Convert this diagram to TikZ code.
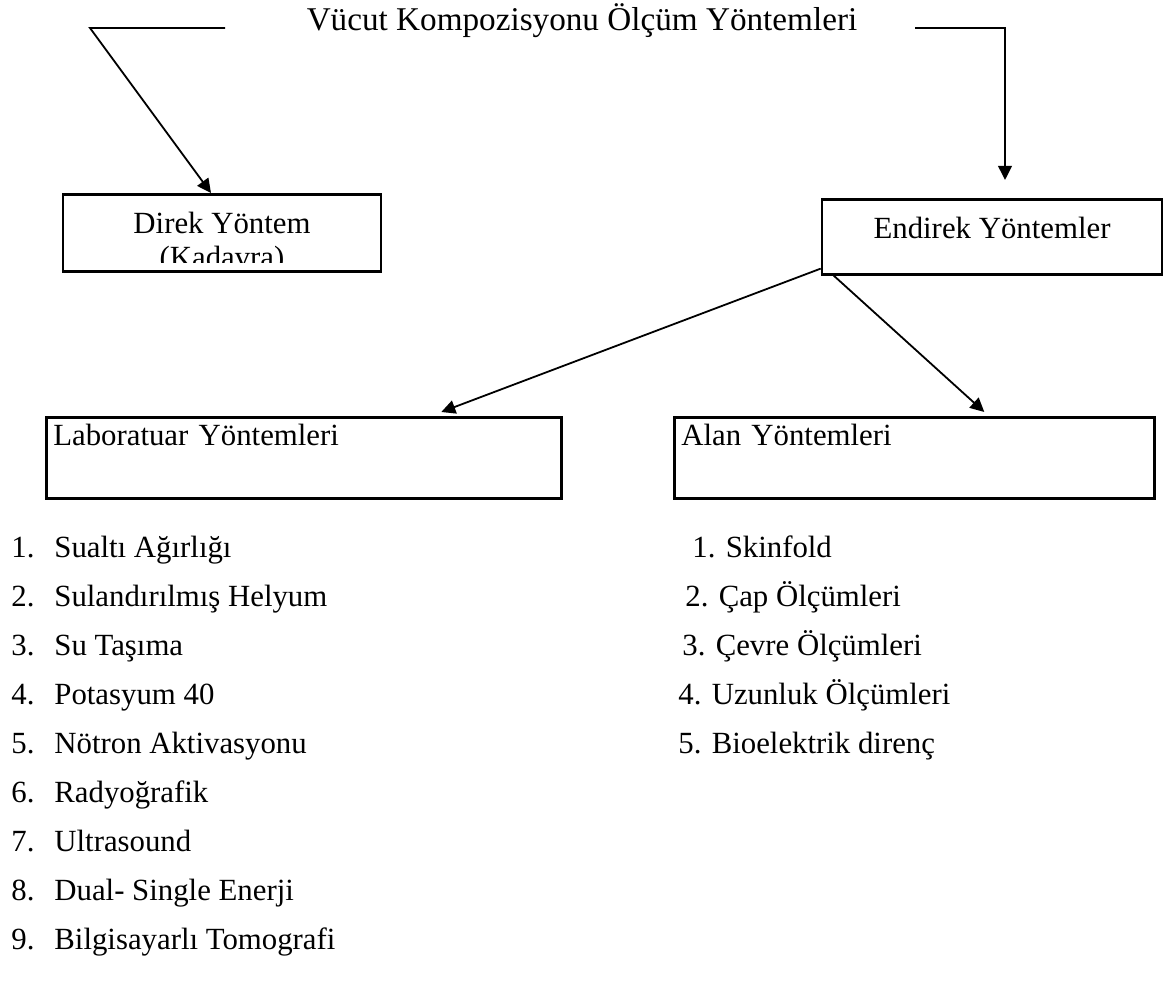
\documentclass[tikz,border=0pt]{standalone}
\usepackage{fontspec}
\setmainfont{Liberation Serif}
\usepackage{tikz}
\usetikzlibrary{positioning}
\usetikzlibrary{arrows.meta}
\tikzset{every node/.style={font=\fontsize{15.4}{18}\selectfont},
  box/.style={draw,line width=1.3pt,inner ysep=0pt},
  item/.style={inner sep=0pt,text height=11pt,text depth=4pt},
  arr/.style={line width=0.9pt,-{Triangle[length=7pt,width=6.8pt]}}}

\begin{document}
\begin{tikzpicture}[x=0.5pt,y=-0.5pt]
    \useasboundingbox (0,0) rectangle (1170,984);

    \node (title) [anchor=base, font=\fontsize{16.6}{20}\selectfont] at (582,31) {V\"ucut Kompozisyonu \"Ol\c{c}\"um Y\"ontemleri};
    \coordinate (tl1) at (225,28);
    \coordinate (tl2) at (90,28);
    \coordinate (tr1) at (915,28);
    \coordinate (tr2) at (1005,28);

    \node (direk) [box, anchor=north, minimum width=159pt, text height=19.5pt, text depth=19pt] at (222,193) {Direk Yöntem};
    \begin{scope}
        \clip ([yshift=5pt]direk.south west) rectangle (direk.north east);
        \node (kadavra) [anchor=base] at ([yshift=-17pt]direk.base) {(Kadavra)};
    \end{scope}
    \node (endirek) [box, anchor=north, minimum width=170pt, text height=19.5pt, text depth=18pt] at (992,198) {Endirek Yöntemler};

    \node (lab) [box, anchor=north west, inner xsep=3.5pt, text width=250.5pt, align=left, text height=14pt, text depth=26.5pt] at (45,416) {Laboratuar Yöntemleri};
    \node (alan) [box, anchor=north west, inner xsep=3.5pt, text width=233pt, align=left, text height=14pt, text depth=26.5pt] at (673,416) {Alan Yöntemleri};

    \draw[arr] (tl1) -- (tl2) -- ([xshift=-5.5pt]direk.north);
    \draw[arr] (tr1) -- (tr2) -- ([xshift=6.5pt,yshift=9pt]endirek.north);
    \draw[arr] ([yshift=3.5pt]endirek.south west) -- ([xshift=68.75pt,yshift=2pt]lab.north);
    \draw[arr] ([xshift=6.5pt]endirek.south west) -- ([xshift=35pt,yshift=2pt]alan.north);

    % laboratuar listesi
    \node (l1) [item, anchor=base west] at (11,557) {\makebox[21.5pt][l]{1.}Sualtı Ağırlığı};
    \node (l2) [item, below=24.55pt of l1.west, anchor=west] {\makebox[21.5pt][l]{2.}Sulandırılmış Helyum};
    \node (l3) [item, below=24.55pt of l2.west, anchor=west] {\makebox[21.5pt][l]{3.}Su Taşıma};
    \node (l4) [item, below=24.55pt of l3.west, anchor=west] {\makebox[21.5pt][l]{4.}Potasyum 40};
    \node (l5) [item, below=24.55pt of l4.west, anchor=west] {\makebox[21.5pt][l]{5.}Nötron Aktivasyonu};
    \node (l6) [item, below=24.55pt of l5.west, anchor=west] {\makebox[21.5pt][l]{6.}Radyoğrafik};
    \node (l7) [item, below=24.55pt of l6.west, anchor=west] {\makebox[21.5pt][l]{7.}Ultrasound};
    \node (l8) [item, below=24.55pt of l7.west, anchor=west] {\makebox[21.5pt][l]{8.}Dual- Single Enerji};
    \node (l9) [item, below=24.55pt of l8.west, anchor=west] {\makebox[21.5pt][l]{9.}Bilgisayarlı Tomografi};

    % alan listesi
    \node (r1) [item, anchor=base west] at (692,557) {1. Skinfold};
    \node (r2) [item, below=24.55pt of r1.west, anchor=west, xshift=-3.5pt] {2. Çap Ölçümleri};
    \node (r3) [item, below=24.55pt of r2.west, anchor=west, xshift=-1.5pt] {3. Çevre Ölçümleri};
    \node (r4) [item, below=24.55pt of r3.west, anchor=west, xshift=-2pt] {4. Uzunluk Ölçümleri};
    \node (r5) [item, below=24.55pt of r4.west, anchor=west] {5. Bioelektrik direnç};
\end{tikzpicture}
\end{document}
